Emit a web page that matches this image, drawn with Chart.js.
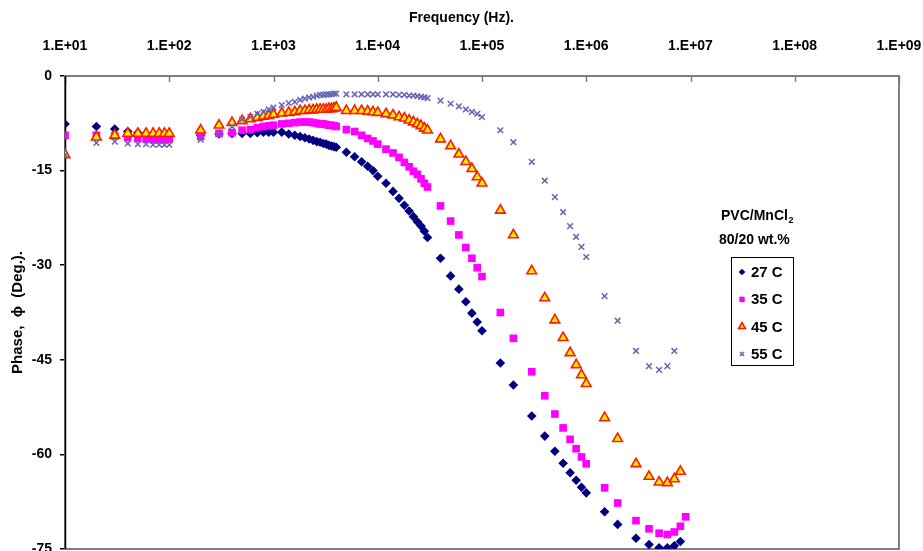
<!DOCTYPE html>
<html>
<head>
<meta charset="utf-8">
<title>PVC/MnCl2 phase angle</title>
<script src="https://cdn.jsdelivr.net/npm/chart.js@4.4.1/dist/chart.umd.min.js"></script>
<style>
  html, body { margin: 0; padding: 0; background: #fff; overflow: hidden; }
  #wrap { position: relative; width: 923px; height: 558px; }
</style>
</head>
<body>
<div id="wrap"><canvas id="phaseChart" width="923" height="558"></canvas></div>
<script>
// measurement frequencies (Hz), same sweep for every temperature
const freqs = [
  10, 20, 30, 40, 50, 60, 70, 80, 90, 100,
  200, 300, 400, 500, 600, 700, 800, 900, 1000,
  1200, 1400, 1600, 1800, 2000, 2200, 2400, 2600, 2800, 3000, 3200, 3400, 3600, 3800, 4000,
  5000, 6000, 7000, 8000, 9000, 10000,
  12000, 14000, 16000, 18000, 20000, 22000, 24000, 26000, 28000, 30000,
  40000, 50000, 60000, 70000, 80000, 90000, 100000,
  150000, 200000, 300000, 400000, 500000, 600000, 700000, 800000, 900000, 1000000,
  1500000, 2000000, 3000000, 4000000, 5000000, 6000000, 7000000, 8000000, 9000000
];

// phase angle (deg) at each frequency; null = no reading
const phase27 = [
  -7.6, -8.0, -8.4, -8.8, -9.0, -9.2, -9.3, -9.5, -9.6, -9.6,
  -9.4, -9.2, -9.1, -9.1, -9.1, -9.0, -8.9, -8.9, -8.9,
  -8.9, -9.2, -9.4, -9.6, -9.8, -10.0, -10.2, -10.4, -10.5, -10.7, -10.8, -11.0, -11.1, -11.2, -11.3,
  -12.1, -12.8, -13.6, -14.3, -15.0, -15.9,
  -17.0, -18.3, -19.4, -20.5, -21.4, -22.3, -23.1, -23.8, -24.6, -25.6,
  -28.9, -31.7, -33.8, -35.8, -37.6, -39.0, -40.4,
  -45.5, -49.0, -53.9, -57.1, -59.5, -61.4, -62.9, -64.1, -65.2, -66.1,
  -69.1, -71.1, -73.3, -74.3, -74.8, -74.8, -74.5, -73.8, null
];
const phase35 = [
  -9.4, -9.4, -9.5, -9.7, -9.9, -10.0, -10.1, -10.1, -10.1, -10.0,
  -9.6, -9.1, -9.0, -8.6, -8.5, -8.2, -8.0, -7.9, -7.8,
  -7.6, -7.5, -7.4, -7.3, -7.3, -7.3, -7.4, -7.5, -7.6, -7.6, -7.7, -7.8, -7.8, -7.9, -8.0,
  -8.5, -8.8, -9.4, -9.9, -10.3, -10.8,
  -11.6, -12.2, -12.9, -13.7, -14.4, -15.1, -15.6, -16.3, -17.0, -17.6,
  -20.6, -23.0, -25.2, -27.2, -28.9, -30.4, -31.8,
  -37.5, -41.6, -46.9, -50.7, -53.6, -55.8, -57.6, -59.1, -60.4, -61.5,
  -65.3, -67.7, -70.5, -71.8, -72.5, -72.7, -72.3, -71.4, -69.9
];
const phase45 = [
  -12.5, -9.7, -9.4, -9.1, -9.1, -9.1, -9.1, -9.1, -9.1, -9.1,
  -8.6, -7.8, -7.4, -7.1, -6.8, -6.6, -6.4, -6.3, -6.1,
  -5.9, -5.8, -5.7, -5.5, -5.5, -5.4, -5.4, -5.3, -5.3, -5.3, -5.3, -5.2, -5.2, -5.1, -5.0,
  -5.5, -5.5, -5.5, -5.6, -5.7, -5.8,
  -6.0, -6.2, -6.5, -6.7, -7.0, -7.3, -7.6, -7.9, -8.3, -8.6,
  -10.0, -11.1, -12.4, -13.6, -14.7, -16.0, -17.0,
  -21.3, -25.2, -30.9, -35.2, -38.7, -41.5, -43.9, -45.8, -47.4, -48.8,
  -54.2, -57.5, -61.5, -63.5, -64.4, -64.5, -63.9, -62.7, null
];
const phase55 = [
  -12.5, -10.6, -10.4, -10.7, -10.8, -10.8, -10.9, -10.9, -10.9, -10.9,
  -10.1, -9.1, -8.0, -6.9, -6.5, -6.0, -5.7, -5.3, -5.0,
  -4.6, -4.3, -4.1, -3.8, -3.6, -3.4, -3.3, -3.1, -3.0, -3.0, -2.9, -2.9, -2.9, -2.8, -2.8,
  -2.9, -2.9, -2.9, -2.9, -2.9, -2.9,
  -2.9, -2.9, -3.0, -3.0, -3.1, -3.1, -3.2, -3.3, -3.4, -3.5,
  -3.9, -4.4, -4.8, -5.3, -5.7, -6.0, -6.5,
  -8.6, -10.5, -13.6, -16.6, -19.2, -21.6, -23.8, -25.5, -27.1, -28.7,
  -34.9, -38.8, -43.6, -46.0, -46.6, -46.0, -43.6, null, null
];

const seriesNames = ['27 C', '35 C', '45 C', '55 C'];
const xTickValues = [1e1, 1e2, 1e3, 1e4, 1e5, 1e6, 1e7, 1e8, 1e9];
const xTickLabels = ['1.E+01', '1.E+02', '1.E+03', '1.E+04', '1.E+05', '1.E+06', '1.E+07', '1.E+08', '1.E+09'];
const yTickValues = [0, -15, -30, -45, -60, -75];

const FONT = '"Liberation Sans", Arial, sans-serif';
Chart.defaults.font.family = FONT;
Chart.defaults.color = '#000';

function toPoints(vals) {
  return freqs.map((f, i) => ({ x: f, y: vals[i] })).filter(p => p.y !== null);
}

// grey plot frame, black value axis and inward decade ticks on the top axis
const plotFrame = {
  id: 'plotFrame',
  beforeDatasetsDraw(chart) {
    const { ctx, chartArea: a, scales: { x } } = chart;
    ctx.save();
    ctx.strokeStyle = '#7f7f7f';
    ctx.lineWidth = 2;
    ctx.strokeRect(a.left, a.top, a.right - a.left, a.bottom - a.top);
    ctx.lineWidth = 1.5;
    xTickValues.forEach(v => {
      const px = Math.round(x.getPixelForValue(v)) + 0.5;
      ctx.beginPath();
      ctx.moveTo(px, a.top);
      ctx.lineTo(px, a.top + 6);
      ctx.stroke();
    });
    ctx.strokeStyle = '#000';
    ctx.beginPath();
    ctx.moveTo(a.left + 0.5, a.top);
    ctx.lineTo(a.left + 0.5, a.bottom);
    ctx.stroke();
    ctx.restore();
  }
};

// sample caption and boxed key on the right of the plot
const seriesKey = {
  id: 'seriesKey',
  afterDraw(chart) {
    const ctx = chart.ctx;
    ctx.save();
    ctx.fillStyle = '#000';
    ctx.textBaseline = 'middle';
    ctx.font = 'bold 14px ' + FONT;
    ctx.fillText('PVC/MnCl', 721, 216);
    const w = ctx.measureText('PVC/MnCl').width;
    ctx.font = 'bold 9px ' + FONT;
    ctx.fillText('2', 721 + w + 0.5, 221);
    ctx.font = 'bold 14px ' + FONT;
    ctx.fillText('80/20 wt.%', 719, 240);

    ctx.fillStyle = '#fff';
    ctx.fillRect(731, 257, 63, 109);
    ctx.strokeStyle = '#000';
    ctx.lineWidth = 1;
    ctx.strokeRect(731.5, 257.5, 62, 108);

    ctx.font = 'bold 15px ' + FONT;
    chart.data.datasets.forEach((ds, i) => {
      const y = 272 + i * 27.3;
      ctx.fillStyle = ds.backgroundColor;
      ctx.strokeStyle = ds.borderColor;
      ctx.lineWidth = ds.borderWidth;
      Chart.helpers.drawPoint(ctx, {
        pointStyle: ds.pointStyle,
        radius: ds.pointRadius * 0.7,
        borderWidth: ds.borderWidth,
        rotation: 0
      }, 742, y);
      ctx.fillStyle = '#000';
      ctx.fillText(ds.label, 751, y + 1);
    });
    ctx.restore();
  }
};

new Chart(document.getElementById('phaseChart'), {
  type: 'scatter',
  data: {
    datasets: [
      {
        label: seriesNames[0], data: toPoints(phase27), order: 3,
        pointStyle: 'rectRot', pointRadius: 4.8,
        backgroundColor: '#000080', borderColor: '#000080', borderWidth: 0
      },
      {
        label: seriesNames[1], data: toPoints(phase35), order: 2,
        pointStyle: 'rect', pointRadius: 5.4,
        backgroundColor: '#ff00ff', borderColor: '#ff00ff', borderWidth: 0
      },
      {
        label: seriesNames[2], data: toPoints(phase45), order: 1,
        pointStyle: 'triangle', pointRadius: 5.6,
        backgroundColor: '#ffee00', borderColor: '#ff1a00', borderWidth: 1.6
      },
      {
        label: seriesNames[3], data: toPoints(phase55), order: 0,
        pointStyle: 'crossRot', pointRadius: 4,
        backgroundColor: '#6464b4', borderColor: '#6464b4', borderWidth: 1.5
      }
    ]
  },
  options: {
    responsive: false,
    animation: false,
    events: [],
    layout: { padding: 0 },
    plugins: {
      legend: { display: false },
      tooltip: { enabled: false },
      title: {
        display: true,
        text: 'Frequency (Hz).',
        font: { size: 14, weight: 'bold' },
        color: '#000',
        padding: { top: 10, bottom: 11.4 }
      }
    },
    scales: {
      x: {
        type: 'logarithmic',
        position: 'top',
        min: 10,
        max: 1e9,
        afterBuildTicks: s => { s.ticks = xTickValues.map(v => ({ value: v })); },
        afterFit: s => {
          s.height = 37.8;
          s.paddingLeft = 0;
          s.paddingRight = 24;
        },
        ticks: {
          callback: (v, i) => xTickLabels[i],
          font: { size: 14, weight: 'bold' },
          padding: 21,
          maxRotation: 0,
          autoSkip: false
        },
        grid: { display: false, drawTicks: false },
        border: { display: false }
      },
      y: {
        min: -75,
        max: 0,
        afterBuildTicks: s => { s.ticks = yTickValues.map(v => ({ value: v })); },
        afterFit: s => {
          s.width = 65;
          s.paddingTop = 0;
          s.paddingBottom = 9;
        },
        ticks: { font: { size: 14, weight: 'bold' }, padding: 8 },
        grid: { drawOnChartArea: false, drawTicks: true, tickLength: 5, color: '#000', lineWidth: 1.5 },
        border: { display: false },
        title: {
          display: true,
          text: 'Phase,  \u03D5  (Deg.).',
          font: { size: 15, weight: 'bold' },
          padding: { top: 9, bottom: 0 }
        }
      }
    }
  },
  plugins: [plotFrame, seriesKey]
});
</script>
</body>
</html>
